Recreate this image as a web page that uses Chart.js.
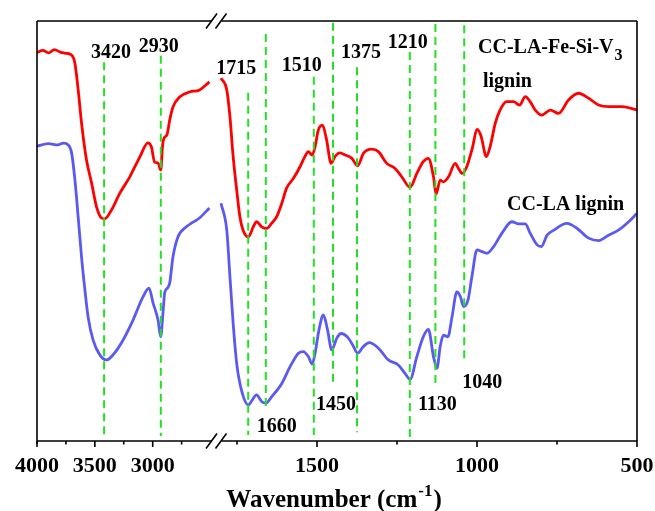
<!DOCTYPE html>
<html>
<head>
<meta charset="utf-8">
<script src="https://cdn.jsdelivr.net/npm/chart.js@4.4.0/dist/chart.umd.min.js"></script>
<style>
  html, body { margin: 0; padding: 0; background: #fff; }
  #wrap { width: 655px; height: 511px; }
</style>
</head>
<body>
<div id="wrap"><canvas id="ftir" width="655" height="511"></canvas></div>
<script>
// FTIR spectra, transmittance in arbitrary units (0 = bottom of frame, 100 = top)
var redLeftWn = [4000, 3950, 3900, 3850, 3800, 3744, 3701, 3672, 3644, 3615, 3572, 3528, 3485, 3442, 3415, 3356, 3284, 3198, 3112, 3041, 3011, 2983, 2954, 2930, 2916, 2903, 2877, 2853, 2825, 2767, 2681, 2595, 2510];
var redLeftT = [92.5, 93.0, 92.4, 93.2, 92.6, 92.3, 91.9, 89.9, 83.6, 75.7, 66.9, 61.4, 55.7, 53.1, 52.9, 55.0, 59.0, 62.9, 67.6, 71.0, 70.0, 66.4, 66.2, 64.5, 70.0, 72.1, 72.9, 76.4, 79.5, 81.9, 83.1, 83.6, 85.5];
var redRightWn = [1800, 1782, 1772, 1762, 1751, 1741, 1731, 1715, 1699, 1689, 1673, 1657, 1642, 1626, 1610, 1595, 1574, 1553, 1538, 1527, 1515, 1506, 1496, 1483, 1470, 1456, 1444, 1428, 1412, 1391, 1373, 1355, 1329, 1308, 1282, 1256, 1235, 1209, 1188, 1168, 1152, 1136, 1128, 1115, 1105, 1089, 1068, 1058, 1046, 1032, 1016, 999, 987, 971, 959, 943, 928, 907, 886, 867, 849, 834, 818, 797, 771, 745, 714, 683, 651, 620, 589, 547, 500];
var redRightT = [86.4, 83.6, 77.2, 67.7, 59.8, 53.4, 50.2, 48.6, 51.0, 52.2, 51.0, 50.6, 51.8, 53.4, 56.6, 60.2, 62.5, 65.3, 67.7, 68.9, 68.1, 70.1, 74.0, 75.2, 71.7, 66.1, 67.7, 68.6, 68.1, 67.3, 65.5, 68.5, 69.5, 68.9, 66.1, 64.9, 62.9, 60.4, 63.7, 66.5, 67.3, 62.9, 58.8, 62.1, 61.7, 62.9, 66.1, 64.9, 63.7, 65.3, 69.3, 74.2, 72.5, 67.7, 70.1, 75.6, 78.8, 80.8, 80.8, 80.0, 82.0, 80.8, 78.8, 77.6, 78.8, 78.0, 81.2, 82.8, 81.6, 80.0, 79.6, 79.6, 78.8];

var blueLeftWn = [4000, 3900, 3820, 3773, 3730, 3701, 3672, 3644, 3615, 3586, 3558, 3515, 3457, 3400, 3343, 3257, 3170, 3084, 3032, 2997, 2954, 2931, 2911, 2897, 2873, 2853, 2825, 2782, 2709, 2652, 2595, 2510];
var blueLeftT = [70.2, 70.8, 70.5, 70.9, 70.5, 68.6, 62.1, 53.3, 43.8, 36.0, 29.5, 24.0, 20.5, 19.3, 20.5, 24.0, 28.8, 34.3, 36.4, 32.9, 28.8, 24.8, 30.5, 35.2, 36.4, 37.6, 43.8, 48.6, 51.0, 52.1, 53.1, 55.5];
var blueRightWn = [1800, 1782, 1772, 1762, 1751, 1736, 1715, 1702, 1689, 1673, 1660, 1642, 1610, 1584, 1558, 1543, 1527, 1515, 1506, 1494, 1480, 1467, 1454, 1438, 1425, 1402, 1386, 1373, 1355, 1337, 1308, 1277, 1246, 1225, 1209, 1188, 1168, 1152, 1136, 1125, 1115, 1105, 1091, 1078, 1063, 1052, 1042, 1028, 1016, 1000, 984, 969, 948, 922, 891, 870, 849, 834, 812, 799, 781, 760, 719, 687, 651, 620, 589, 558, 526, 500];
var blueRightT = [56.6, 50.2, 39.1, 28.0, 18.5, 12.1, 8.6, 9.8, 11.0, 9.4, 9.0, 10.5, 13.7, 17.7, 20.9, 21.3, 20.1, 18.3, 20.9, 26.4, 30.0, 26.4, 21.7, 24.5, 25.6, 24.5, 22.5, 20.9, 22.5, 23.4, 22.1, 19.3, 18.1, 16.1, 14.7, 20.1, 24.8, 26.6, 20.1, 17.3, 22.5, 25.2, 24.8, 29.6, 35.5, 34.4, 32.0, 33.6, 39.1, 45.5, 45.1, 44.7, 46.3, 49.5, 52.2, 51.7, 51.7, 49.5, 46.7, 46.3, 49.0, 50.2, 51.8, 50.6, 48.3, 47.7, 49.0, 50.2, 52.2, 54.2];

// marked bands and the extent of their dashed guide lines
var peakWn = [3420, 2930, 1715, 1660, 1510, 1450, 1375, 1210, 1130, 1040];
var peakTop = [90.2, 91.7, 82.9, 96.9, 86.7, 99.6, 89.0, 92.6, 99.3, 99.0];
var peakBottom = [1.4, 1.2, 1.4, 7.6, 1.4, 12.9, 2.1, 0.4, 12.6, 18.6];

var tickLabels = [4000, 3500, 3000, 1500, 1000, 500];
var minorTicks = [3750, 3250, 2750, 1750, 1250, 750];

// broken axis: 4000-2500 compressed on the left, 1800-500 on the right
var LEFT_SCALE = 0.1157;
var RIGHT_SCALE = 0.32;
function toAxis(wn) {
  if (wn >= 2500) return (4000 - wn) * LEFT_SCALE;
  return 280 + (1500 - wn) * RIGHT_SCALE;
}

function buildSeries(lw, lt, rw, rt) {
  var pts = [];
  for (var i = 0; i < lw.length; i++) pts.push({ x: toAxis(lw[i]), y: lt[i] });
  pts.push({ x: 179, y: null });
  for (var j = 0; j < rw.length; j++) pts.push({ x: toAxis(rw[j]), y: rt[j] });
  return pts;
}

var GREEN = '#22e022';
var SERIF = '"Liberation Serif", "Times New Roman", serif';

var datasets = [];
peakWn.forEach(function (w, i) {
  datasets.push({
    data: [{ x: toAxis(w), y: peakTop[i] }, { x: toAxis(w), y: peakBottom[i] }],
    borderColor: GREEN,
    borderWidth: 2,
    borderDash: [8, 5],
    pointRadius: 0,
    tension: 0
  });
});
datasets.push({
  label: 'CC-LA-Fe-Si-V3 lignin',
  data: buildSeries(redLeftWn, redLeftT, redRightWn, redRightT),
  borderColor: '#ff0000',
  borderWidth: 2.8,
  pointRadius: 0,
  cubicInterpolationMode: 'monotone',
  spanGaps: false
});
datasets.push({
  label: 'CC-LA lignin',
  data: buildSeries(blueLeftWn, blueLeftT, blueRightWn, blueRightT),
  borderColor: '#5a5af2',
  borderWidth: 2.8,
  pointRadius: 0,
  cubicInterpolationMode: 'monotone',
  spanGaps: false
});

// text annotations: label, peak, x shift from its line, baseline y
var peakText = [
  ['3420', 3420, 7, 58], ['2930', 2930, -2, 52], ['1715', 1715, -12, 74],
  ['1510', 1510, -12, 71], ['1375', 1375, 4, 58], ['1210', 1210, -2, 48],
  ['1660', 1660, 11, 432], ['1450', 1450, 3, 410], ['1130', 1130, 2, 410],
  ['1040', 1040, 18, 388]
];

var framePlugin = {
  id: 'frame',
  afterDraw: function (chart) {
    var ctx = chart.ctx;
    var a = chart.chartArea;
    var xs = chart.scales.x;
    var breakX = 216.5;
    ctx.save();
    ctx.strokeStyle = '#000';
    ctx.lineWidth = 1.6;
    ctx.beginPath();
    // left & right
    ctx.moveTo(a.left, a.top); ctx.lineTo(a.left, a.bottom + 3);
    ctx.moveTo(a.right, a.top); ctx.lineTo(a.right, a.bottom);
    // top and bottom with a gap at the break
    ctx.moveTo(a.left, a.top); ctx.lineTo(breakX - 5, a.top);
    ctx.moveTo(breakX + 5, a.top); ctx.lineTo(a.right, a.top);
    ctx.moveTo(a.left, a.bottom); ctx.lineTo(breakX - 5, a.bottom);
    ctx.moveTo(breakX + 5, a.bottom); ctx.lineTo(a.right, a.bottom);
    ctx.stroke();

    // break marks
    [a.top, a.bottom].forEach(function (y) {
      ctx.beginPath();
      ctx.moveTo(breakX - 10.5, y + 7.5); ctx.lineTo(breakX + 0.5, y - 7.5);
      ctx.moveTo(breakX - 1, y + 7.5); ctx.lineTo(breakX + 10, y - 7.5);
      ctx.stroke();
    });

    // tick marks
    ctx.beginPath();
    tickLabels.forEach(function (w) {
      var px = xs.getPixelForValue(toAxis(w));
      ctx.moveTo(px, a.bottom); ctx.lineTo(px, a.bottom + 6);
    });
    minorTicks.forEach(function (w) {
      var px = xs.getPixelForValue(toAxis(w));
      ctx.moveTo(px, a.bottom); ctx.lineTo(px, a.bottom + 3.5);
    });
    ctx.stroke();

    // peak numbers
    ctx.fillStyle = '#000';
    ctx.textAlign = 'center';
    ctx.textBaseline = 'alphabetic';
    ctx.font = 'bold 20px ' + SERIF;
    peakText.forEach(function (p) {
      ctx.fillText(p[0], xs.getPixelForValue(toAxis(p[1])) + p[2], p[3]);
    });

    // series names
    ctx.textAlign = 'left';
    ctx.font = 'bold 20px ' + SERIF;
    var main = 'CC-LA-Fe-Si-V';
    ctx.fillText(main, 478, 53);
    var mw = ctx.measureText(main).width;
    ctx.font = 'bold 16px ' + SERIF;
    ctx.fillText('3', 478 + mw + 1, 60);
    ctx.font = 'bold 20px ' + SERIF;
    ctx.fillText('lignin', 483, 87);
    ctx.fillText('CC-LA lignin', 507, 210);

    // axis title with superscript
    var t1 = 'Wavenumber (cm', t2 = '-1', t3 = ')';
    ctx.font = 'bold 25px ' + SERIF;
    var w1 = ctx.measureText(t1).width, w3 = ctx.measureText(t3).width;
    ctx.font = 'bold 17px ' + SERIF;
    var w2 = ctx.measureText(t2).width;
    var x0 = 334 - (w1 + w2 + w3 + 2) / 2;
    ctx.font = 'bold 25px ' + SERIF;
    ctx.fillText(t1, x0, 507);
    ctx.font = 'bold 17px ' + SERIF;
    ctx.fillText(t2, x0 + w1 + 1, 496);
    ctx.font = 'bold 25px ' + SERIF;
    ctx.fillText(t3, x0 + w1 + w2 + 2, 507);
    ctx.restore();
  }
};

new Chart(document.getElementById('ftir').getContext('2d'), {
  type: 'line',
  data: { datasets: datasets },
  options: {
    responsive: false,
    animation: false,
    layout: { padding: { left: 37, right: 18, top: 21, bottom: 0 } },
    plugins: { legend: { display: false }, tooltip: { enabled: false } },
    scales: {
      x: {
        type: 'linear',
        min: 0,
        max: 600,
        grid: { display: false, drawTicks: false },
        border: { display: false },
        ticks: {
          autoSkip: false,
          maxRotation: 0,
          padding: 12,
          color: '#000',
          font: { family: SERIF, size: 22, weight: 'bold' },
          callback: function (v, i) { return String(tickLabels[i]); }
        },
        afterBuildTicks: function (scale) {
          scale.ticks = tickLabels.map(function (w) { return { value: toAxis(w) }; });
        },
        afterFit: function (scale) {
          scale.height = 70;
          scale.paddingLeft = 0;
          scale.paddingRight = 0;
        }
      },
      y: { display: false, min: 0, max: 100 }
    }
  },
  plugins: [framePlugin]
});
</script>
</body>
</html>
